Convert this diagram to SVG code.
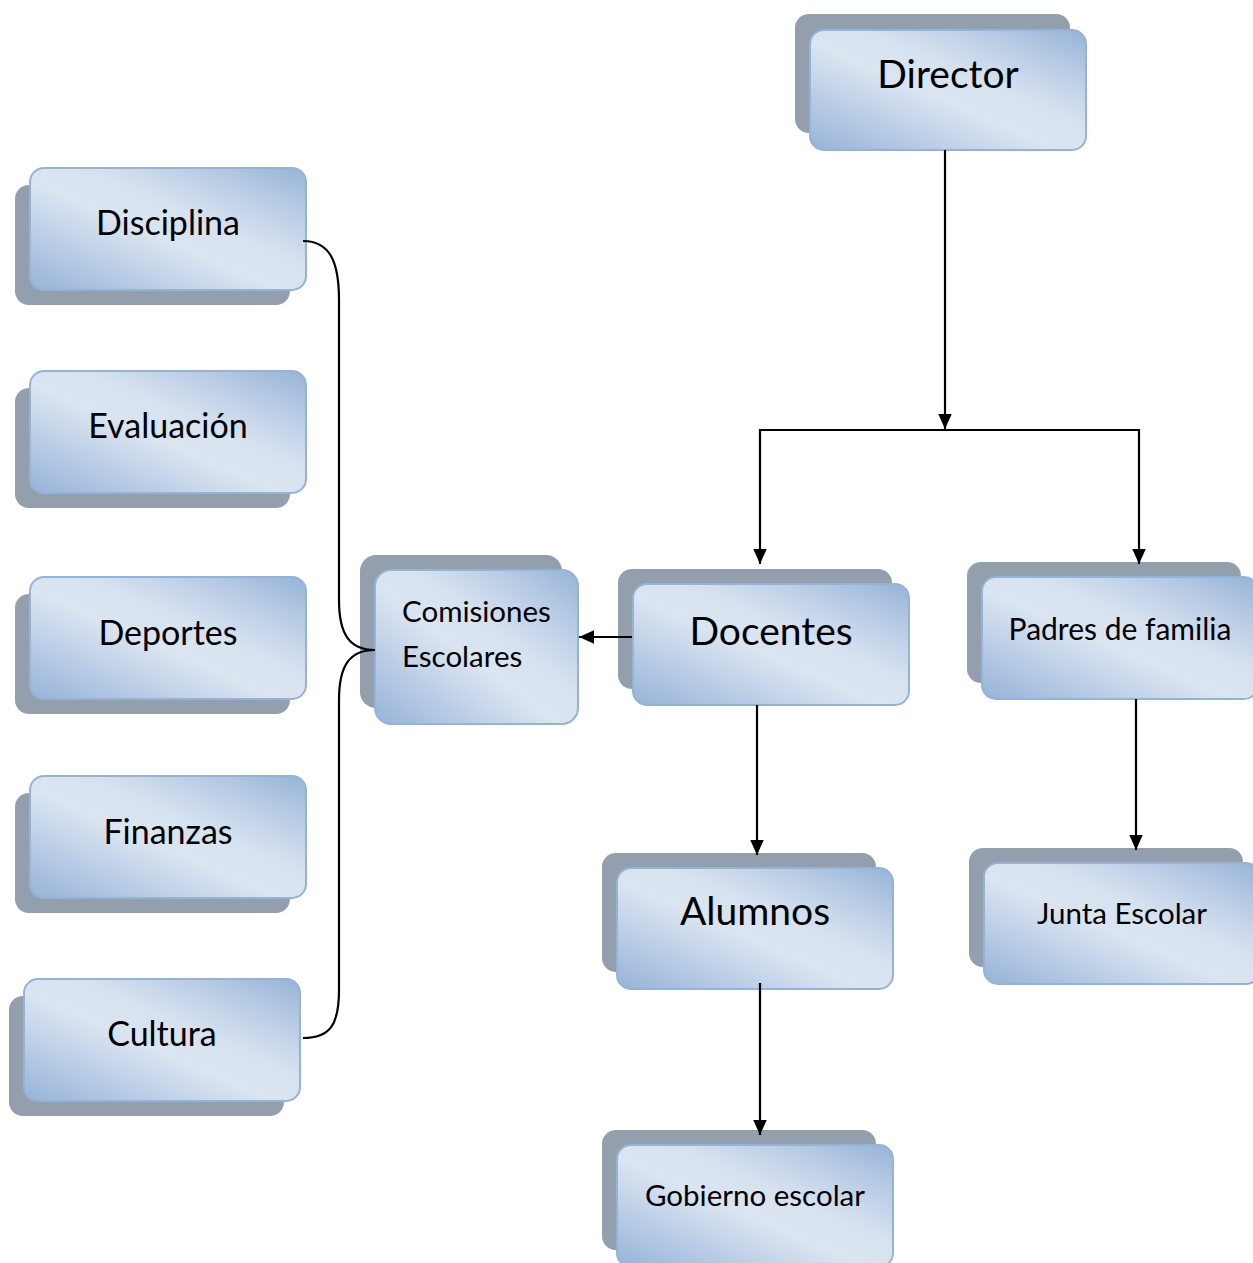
<svg xmlns="http://www.w3.org/2000/svg" width="1253" height="1263" viewBox="0 0 1253 1263">
<defs>
<linearGradient id="g" x1="0" y1="1" x2="1" y2="0">
<stop offset="0" stop-color="#95b3d7"/>
<stop offset="0.2" stop-color="#b5c9e4"/>
<stop offset="0.45" stop-color="#dbe5f1"/>
<stop offset="0.6" stop-color="#d7e2f0"/>
<stop offset="0.8" stop-color="#b9cce5"/>
<stop offset="1" stop-color="#95b3d7"/>
</linearGradient>
<marker id="ar" viewBox="0 0 10 10" refX="10" refY="5" markerWidth="15" markerHeight="15" markerUnits="userSpaceOnUse" orient="auto">
<path d="M0,0.5 L10,5 L0,9.5 z" fill="#000"/>
</marker>
</defs>
<style>
.sh{fill:#939fad}
.bx{fill:url(#g);stroke:#95b3d7;stroke-width:2}
.t{font-family:Lato,"Liberation Sans",sans-serif;fill:#000;text-anchor:middle}
.ln{fill:none;stroke:#000;stroke-width:2.2}
</style>
<rect width="1253" height="1263" fill="#fff"/>

<g id="director">
<rect class="sh" x="795" y="14" width="275" height="119" rx="14"/>
<rect class="bx" x="810" y="30" width="276" height="120" rx="14"/>
<text class="t" x="948" y="88" font-size="39">Director</text>
</g>

<g id="disciplina">
<rect class="sh" x="15" y="185" width="275" height="120" rx="14"/>
<rect class="bx" x="30" y="168" width="276" height="122" rx="14"/>
<text class="t" x="168" y="235" font-size="34">Disciplina</text>
</g>

<g id="evaluacion">
<rect class="sh" x="15" y="388" width="275" height="120" rx="14"/>
<rect class="bx" x="30" y="371" width="276" height="122" rx="14"/>
<text class="t" x="168" y="438" font-size="34">Evaluación</text>
</g>

<g id="deportes">
<rect class="sh" x="15" y="594" width="275" height="120" rx="14"/>
<rect class="bx" x="30" y="577" width="276" height="122" rx="14"/>
<text class="t" x="168" y="645" font-size="34">Deportes</text>
</g>

<g id="finanzas">
<rect class="sh" x="15" y="793" width="275" height="120" rx="14"/>
<rect class="bx" x="30" y="776" width="276" height="122" rx="14"/>
<text class="t" x="168" y="844" font-size="34">Finanzas</text>
</g>

<g id="cultura">
<rect class="sh" x="9" y="996" width="275" height="120" rx="14"/>
<rect class="bx" x="24" y="979" width="276" height="122" rx="14"/>
<text class="t" x="162" y="1046" font-size="34">Cultura</text>
</g>

<g id="comisiones">
<rect class="sh" x="360" y="555" width="202" height="153" rx="16"/>
<rect class="bx" x="375" y="570" width="203" height="154" rx="16"/>
<text class="t" x="402" y="622" font-size="29.5" style="text-anchor:start">Comisiones</text>
<text class="t" x="402" y="667" font-size="29.5" style="text-anchor:start">Escolares</text>
</g>

<g id="docentes">
<rect class="sh" x="618" y="569" width="274" height="120" rx="14"/>
<rect class="bx" x="633" y="584" width="276" height="121" rx="14"/>
<text class="t" x="771" y="645" font-size="39">Docentes</text>
</g>

<g id="padres">
<rect class="sh" x="967" y="562" width="274" height="121" rx="14"/>
<rect class="bx" x="982" y="577" width="276" height="122" rx="14"/>
<text class="t" x="1120" y="640" font-size="30">Padres de familia</text>
</g>

<g id="alumnos">
<rect class="sh" x="602" y="853" width="274" height="119" rx="14"/>
<rect class="bx" x="617" y="868" width="276" height="121" rx="14"/>
<text class="t" x="755" y="925" font-size="39">Alumnos</text>
</g>

<g id="junta">
<rect class="sh" x="969" y="848" width="274" height="119" rx="14"/>
<rect class="bx" x="984" y="863" width="276" height="121" rx="14"/>
<text class="t" x="1122" y="924" font-size="29.5">Junta Escolar</text>
</g>

<g id="gobierno">
<rect class="sh" x="602" y="1130" width="274" height="120" rx="14"/>
<rect class="bx" x="617" y="1145" width="276" height="122" rx="14"/>
<text class="t" x="755" y="1206" font-size="29.5">Gobierno escolar</text>
</g>

<g id="connectors">
<line class="ln" x1="945" y1="150" x2="945" y2="429" marker-end="url(#ar)"/>
<line class="ln" x1="759" y1="430" x2="1140" y2="430"/>
<line class="ln" x1="760" y1="429" x2="760" y2="564" marker-end="url(#ar)"/>
<line class="ln" x1="1139" y1="429" x2="1139" y2="564" marker-end="url(#ar)"/>
<line class="ln" x1="632" y1="637" x2="579" y2="637" marker-end="url(#ar)"/>
<line class="ln" x1="757" y1="705" x2="757" y2="855" marker-end="url(#ar)"/>
<line class="ln" x1="1136" y1="699" x2="1136" y2="850" marker-end="url(#ar)"/>
<line class="ln" x1="760" y1="983" x2="760" y2="1135" marker-end="url(#ar)"/>
<path class="ln" d="M303,241 C330,241 339,262 339,300 L339,600 C339,635 350,650 375,650 C350,650 339,665 339,700 L339,990 C339,1025 330,1038 303,1038"/>
</g>
</svg>
